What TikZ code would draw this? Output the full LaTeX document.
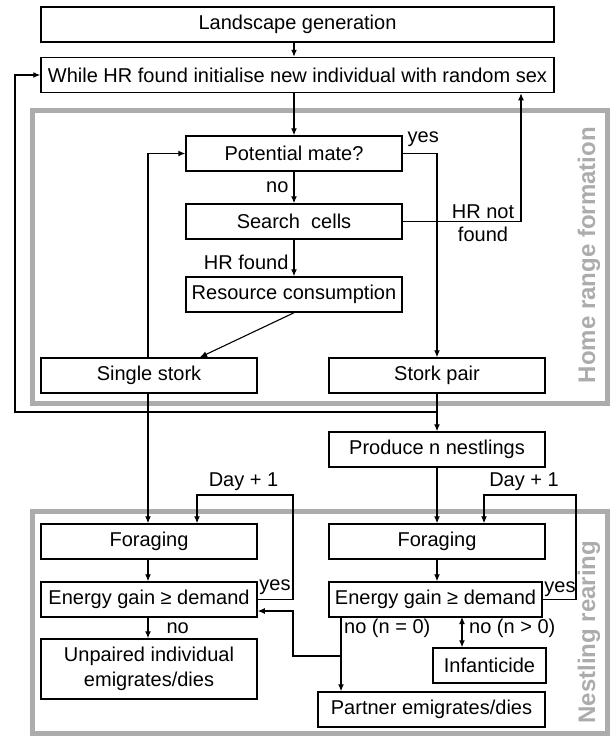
\documentclass[tikz,border=0pt]{standalone}
\usepackage{fontspec}
\setmainfont{Liberation Sans}
\usetikzlibrary{arrows.meta}

\definecolor{framegray}{RGB}{172,172,172}
\tikzset{
  box/.style={draw,line width=1.5pt,minimum height=35pt,inner sep=0pt,align=center},
  flow/.style={line width=1.1pt,-{Latex[length=7pt,width=6pt]}},
  both/.style={line width=1.1pt,{Latex[length=7pt,width=6pt]}-{Latex[length=7pt,width=6pt]}},
  lbl/.style={inner sep=0pt,align=center},
  frame/.style={draw=framegray,line width=5pt},
  phase/.style={text=framegray,inner sep=0pt,rotate=90,font=\fontsize{24}{28}\selectfont\bfseries}
}

\begin{document}
\begin{tikzpicture}[x=1pt,y=-1pt,font=\fontsize{20}{25}\selectfont]
\useasboundingbox (0,0) rectangle (611,737);

% phases
\draw[frame] (32,110) rectangle (607,403);
\draw[frame] (32,511) rectangle (607,733);
\node[phase] (hrf) at (589,255) {Home range formation};
\node[phase] (nr) at (589,632) {Nestling rearing};

% boxes
\node[box,minimum width=513pt] (land) at (297.5,24.5) {Landscape generation};
\node[box,minimum width=513pt] (init) at (297.5,75) {While HR found initialise new individual with random sex};
\node[box,minimum width=216pt] (mate) at (294,153.5) {Potential mate?};
\node[box,minimum width=216pt] (search) at (294,221.5) {Search\ \ cells};
\node[box,minimum width=216pt] (consume) at (294,294.5) {Resource consumption};
\node[box,minimum width=216pt] (single) at (149,375.5) {Single stork};
\node[box,minimum width=216pt] (pair) at (437,375.5) {Stork pair};
\node[box,minimum width=216pt] (nest) at (437,449.5) {Produce n nestlings};
\node[box,minimum width=216pt] (forL) at (149,541.5) {Foraging};
\node[box,minimum width=216pt] (forR) at (437,541.5) {Foraging};
\node[box,minimum width=216pt] (engL) at (149,599.5) {Energy gain ≥ demand};
\node[box,minimum width=213pt] (engR) at (435.5,599.5) {Energy gain ≥ demand};
\node[box,minimum width=216pt,minimum height=60pt] (unpaired) at (149,669) {Unpaired individual\\emigrates/dies};
\node[box,minimum width=113pt] (infan) at (489.5,665.5) {Infanticide};
\node[box,minimum width=227pt] (partner) at (431.5,709.5) {Partner emigrates/dies};

% turning points
\coordinate (back) at (437,412);
\coordinate (rim) at (15,0);
\coordinate (ret) at (521,0);
\coordinate (dayL) at (293,495);
\coordinate (dayR) at (576,495);
\coordinate (nzero) at (341,617);
\coordinate (join) at (341,656);
\coordinate (back2) at (293,611);
\coordinate (nplus) at (462,617);

% home range formation
\draw[flow] (land.south -| mate.north) -- (init.north -| mate.north);
\draw[flow] (init.south -| mate.north) -- (mate.north);
\draw[flow] (mate) -- node[lbl,left=5pt] {no} (search);
\draw[flow] (search) -- node[lbl,left=5pt,pos=0.62] {HR found} (consume);
\draw[flow] (consume.south) -- ([xshift=51pt]single.north);
\draw[flow] (mate.east) -| node[lbl,pos=0.3,above=6pt] {yes} (pair.north);
\draw[flow] (search.east) -| (init.south -| ret);
\node[lbl,font=\fontsize{20}{23}\selectfont] (hrnf) at (483,223) {HR not\\found};
\draw[flow] ([xshift=-1pt]single.north) |- (mate.west);
\draw[flow] (back) -- (back -| rim) |- (init.west);
\draw[flow] (pair.south) -- (nest.north);

% nestling rearing
\draw[flow] ([xshift=-1pt]single.south) -- ([xshift=-1pt]forL.north);
\draw[flow] (nest.south) -- (forR.north);
\draw[flow] ([xshift=-1pt]forL.south) -- ([xshift=-1pt]engL.north);
\draw[flow] (forR.south) -- (forR.south |- engR.north);
\draw[flow] (engL.east) -| (dayL) -| ([xshift=48pt]forL.north);
\draw[flow] (engR.east) -| (dayR) -| ([xshift=47pt]forR.north);
\node[lbl] (dayLl) at (243.5,482) {Day + 1};
\node[lbl] (dayRl) at (524,482) {Day + 1};
\node[lbl] (yesL) at (275,587) {yes};
\node[lbl] (yesR) at (560,589) {yes};
\draw[flow] ([xshift=-1pt]engL.south) -- node[lbl,right=18pt] {no} ([xshift=-1pt]unpaired.north);
\draw[flow] (nzero) -- (nzero |- partner.north);
\draw[flow] (join) -| (back2) -- (back2 -| engL.east);
\draw[both] (nplus) -- (nplus |- infan.north);
\node[lbl,anchor=west] (nol) at (344,628) {no (n = 0)};
\node[lbl,anchor=west] (nor) at (469,628) {no (n > 0)};
\end{tikzpicture}
\end{document}
